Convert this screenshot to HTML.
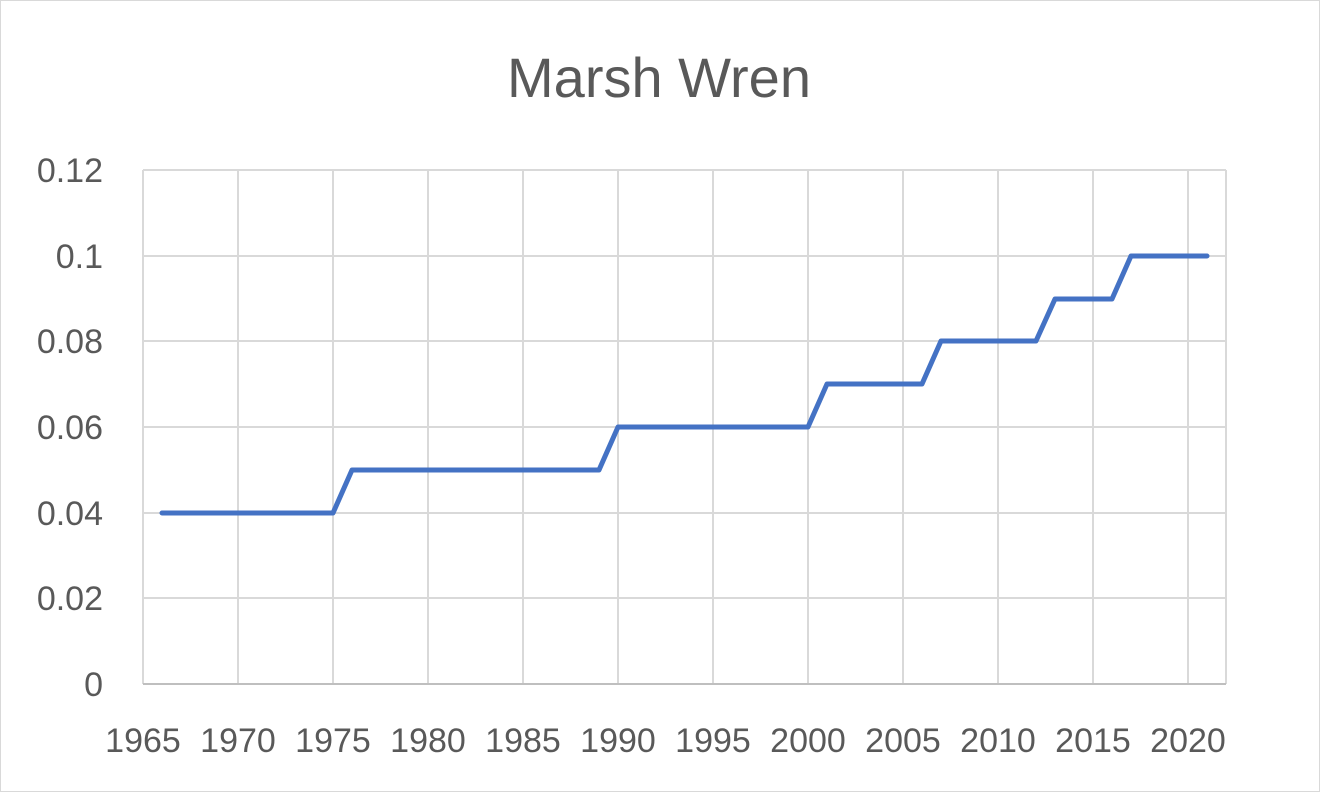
<!DOCTYPE html>
<html><head><style>body{margin:0;background:#fff}</style></head><body>
<svg width="1320" height="792" xmlns="http://www.w3.org/2000/svg" font-family="Liberation Sans, sans-serif">
<rect x="0.5" y="0.5" width="1319" height="791" fill="#fff" stroke="#d9d9d9"/>
<text x="659" y="97" text-anchor="middle" font-size="56" fill="#595959">Marsh Wren</text>
<g stroke="#d9d9d9" stroke-width="2">
<line x1="143" y1="170" x2="1226" y2="170"/><line x1="143" y1="256" x2="1226" y2="256"/>
<line x1="143" y1="341" x2="1226" y2="341"/><line x1="143" y1="427" x2="1226" y2="427"/>
<line x1="143" y1="513" x2="1226" y2="513"/><line x1="143" y1="598" x2="1226" y2="598"/>
<line x1="143" y1="170" x2="143" y2="684"/><line x1="238" y1="170" x2="238" y2="684"/>
<line x1="333" y1="170" x2="333" y2="684"/><line x1="428" y1="170" x2="428" y2="684"/>
<line x1="523" y1="170" x2="523" y2="684"/><line x1="618" y1="170" x2="618" y2="684"/>
<line x1="713" y1="170" x2="713" y2="684"/><line x1="808" y1="170" x2="808" y2="684"/>
<line x1="903" y1="170" x2="903" y2="684"/><line x1="998" y1="170" x2="998" y2="684"/>
<line x1="1093" y1="170" x2="1093" y2="684"/><line x1="1188" y1="170" x2="1188" y2="684"/>
<line x1="1226" y1="170" x2="1226" y2="684"/>
<line x1="143" y1="684" x2="1226" y2="684" stroke="#bfbfbf"/>
</g>
<g font-size="34" fill="#595959" text-anchor="end">
<text x="103" y="182">0.12</text><text x="103" y="268">0.1</text><text x="103" y="353">0.08</text>
<text x="103" y="439">0.06</text><text x="103" y="525">0.04</text><text x="103" y="610">0.02</text>
<text x="103" y="696">0</text>
</g>
<g font-size="34" fill="#595959" text-anchor="middle">
<text x="143" y="752">1965</text><text x="238" y="752">1970</text><text x="333" y="752">1975</text>
<text x="428" y="752">1980</text><text x="523" y="752">1985</text><text x="618" y="752">1990</text>
<text x="713" y="752">1995</text><text x="808" y="752">2000</text><text x="903" y="752">2005</text>
<text x="998" y="752">2010</text><text x="1093" y="752">2015</text><text x="1188" y="752">2020</text>
</g>
<polyline fill="none" stroke="#4472c4" stroke-width="5" stroke-linejoin="round" stroke-linecap="round"
points="162,513 333,513 352,470 599,470 618,427 808,427 827,384 922,384 941,341 1036,341 1055,299 1112,299 1131,256 1207,256"/>
</svg>
</body></html>
